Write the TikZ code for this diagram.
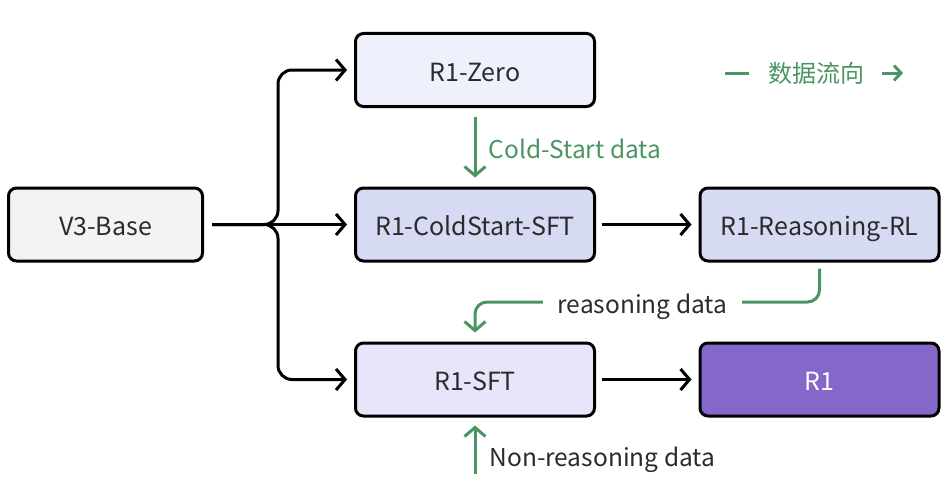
\documentclass[tikz,border=0pt]{standalone}
\usepackage{fontspec}
\setmainfont{Noto Sans CJK SC}
\usetikzlibrary{arrows.meta}

\definecolor{flowgreen}{HTML}{4B9463}
\definecolor{textdark}{HTML}{2B2B2B}
\definecolor{basegray}{HTML}{F3F3F3}
\definecolor{zeroblue}{HTML}{EEF1FB}
\definecolor{sftblue}{HTML}{D6DAF3}
\definecolor{sftlilac}{HTML}{E9E4FA}
\definecolor{rpurple}{HTML}{8467C9}

\tikzset{
  model/.style={draw=black, line width=3pt, rounded corners=8pt,
    minimum width=239pt, minimum height=73pt, text=textdark,
    text height=24pt, text depth=2pt,
    font=\fontsize{25}{30}\selectfont},
  link/.style={line width=3pt, -{Straight Barb[length=9pt,width=21pt]}},
  datalink/.style={link, draw=flowgreen},
  datalabel/.style={font=\fontsize{24.5}{30}\selectfont, text=textdark,
    text height=24pt, text depth=2pt}
}

\begin{document}
\begin{tikzpicture}[x=1pt,y=-1pt]
\useasboundingbox (0,0) rectangle (949,503);

% models
\node[model, fill=basegray, minimum width=194pt] (v3) at (105.5,224.5) {V3-Base};
\node[model, fill=zeroblue] (zero) at (475,70) {R1-Zero};
\node[model, fill=sftblue] (coldsft) at (475,224.5) {R1-ColdStart-SFT};
\node[model, fill=sftlilac] (sft) at (475,379.5) {R1-SFT};
\node[model, fill=sftblue] (rl) at (819.5,224.5) {R1-Reasoning-RL};
\node[model, fill=rpurple, text=white] (r1) at (819.5,379.5) {R1};

% branching from the base
\coordinate (split) at (278,224.5);
\draw[link, rounded corners=14pt, shorten <=8pt, shorten >=7pt] (v3.east) -- (split) |- (zero.west);
\draw[link, shorten <=8pt, shorten >=7pt] (v3.east) -- (coldsft.west);
\draw[link, rounded corners=14pt, shorten <=8pt, shorten >=7pt] (v3.east) -- (split) |- (sft.west);

\draw[link, shorten <=6pt, shorten >=7pt] (coldsft.east) -- (rl.west);
\draw[link, shorten <=6pt, shorten >=7pt] (sft.east) -- (r1.west);

% data flow
\draw[datalink, shorten <=9pt, shorten >=9pt] (zero.south) -- (coldsft.north)
  node[midway, anchor=west, xshift=9pt, datalabel, text=flowgreen] {Cold-Start data};

\coordinate (rdata) at (642.5,302);
\draw[datalink, rounded corners=12pt, shorten <=6pt, shorten >=9pt] (rl.south) |- (rdata) -| (sft.north);
\node[datalabel, fill=white, inner xsep=15pt] (rlabel) at (rdata) {reasoning data};

\coordinate (nrsrc) at (475,474);
\draw[datalink, shorten >=8pt] (nrsrc) -- (sft.south);
\node[datalabel, anchor=west] (nrlabel) at (486,455) {Non-reasoning data};

% legend
\node[font=\fontsize{24}{28}\selectfont, text=flowgreen] (legend) at (816.5,73) {数据流向};
\draw[flowgreen, line width=3pt] ([xshift=-16pt]legend.west) -- ++(-24,0);
\draw[flowgreen, line width=3pt, -{Straight Barb[length=7pt,width=15pt]}] ([xshift=14pt]legend.east) -- ++(21,0);

\end{tikzpicture}
\end{document}
